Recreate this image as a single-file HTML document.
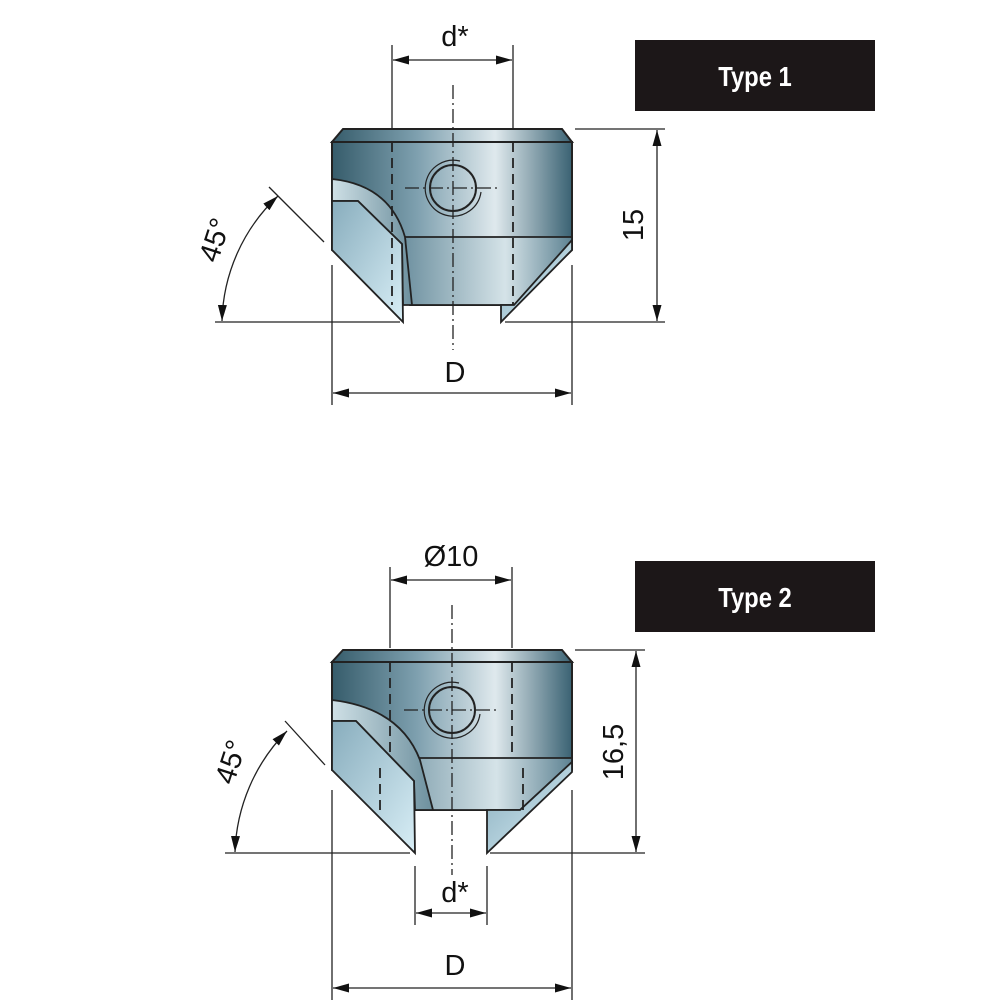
<!DOCTYPE html>
<html><head><meta charset="utf-8"><style>
html,body{margin:0;padding:0;background:#fff}
svg{display:block}
text{font-family:"Liberation Sans",sans-serif}
</style></head><body>
<svg width="1000" height="1000" viewBox="0 0 1000 1000" xmlns="http://www.w3.org/2000/svg">
<defs>
<linearGradient id="g" x1="0" x2="1" y1="0" y2="0">
<stop offset="0" stop-color="#365c6b"/><stop offset="0.35" stop-color="#7d9fae"/><stop offset="0.68" stop-color="#dfe9ed"/><stop offset="1" stop-color="#3a6273"/>
</linearGradient>
<linearGradient id="g2" x1="0" x2="1" y1="0" y2="0">
<stop offset="0" stop-color="#6f92a1"/><stop offset="0.6" stop-color="#d5e3e8"/><stop offset="1" stop-color="#5d8292"/>
</linearGradient>
<linearGradient id="c" x1="0" x2="1" y1="0" y2="1">
<stop offset="0" stop-color="#88adbd"/><stop offset="1" stop-color="#d8eef6"/>
</linearGradient>
<linearGradient id="b" x1="0" x2="1" y1="0" y2="0">
<stop offset="0" stop-color="#cfe0e6"/><stop offset="1" stop-color="#6d909e"/>
</linearGradient>
<marker id="a" viewBox="0 0 16 10" refX="16" refY="5" markerWidth="16" markerHeight="11" orient="auto-start-reverse" markerUnits="userSpaceOnUse"><path d="M0,0.5 L16,5 L0,9.5 Z" fill="#111"/></marker>
</defs>
<g stroke="#222" stroke-width="1.3" fill="none">
<!-- ===== TYPE 1 ===== -->
<polygon points="343,129 562,129 572,142 332,142" fill="url(#g)" stroke-width="2"/>
<polygon points="332,142 572,142 572,250 514,305 410,305 332,250" fill="url(#g)" stroke-width="2"/>
<polygon points="405,237 572,237 572,250 514,305 410,305" fill="url(#g2)" stroke-width="1.8"/>
<path d="M332,179 Q390,185 405,237 L412,305 L403,305 L402,244 L358,201 L332,201 Z" fill="url(#b)" stroke-width="1.8"/>
<polygon points="332,201 358,201 402,244 403,322 332,250" fill="url(#c)" stroke-width="1.8"/>
<polygon points="572,240 572,250 501,322 501,305 514,305" fill="url(#c)" stroke-width="1.8"/>
<circle cx="453" cy="188" r="23" stroke-width="2"/>
<path d="M460,161 A28,28 0 1 0 481,192" stroke-width="1.2"/>
<line x1="392" y1="45" x2="392" y2="128"/><line x1="513" y1="45" x2="513" y2="128"/>
<line x1="392" y1="142" x2="392" y2="305" stroke-dasharray="10,6" stroke-width="1.8"/>
<line x1="513" y1="142" x2="513" y2="305" stroke-dasharray="10,6" stroke-width="1.8"/>
<line x1="453" y1="85" x2="453" y2="350" stroke-dasharray="14,4,2,4"/>
<line x1="405" y1="188" x2="500" y2="188" stroke-dasharray="14,4,2,4"/>
<line x1="393" y1="60" x2="512" y2="60" marker-start="url(#a)" marker-end="url(#a)"/>
<line x1="575" y1="129" x2="665" y2="129"/><line x1="505" y1="322" x2="665" y2="322"/>
<line x1="657" y1="130" x2="657" y2="321" marker-start="url(#a)" marker-end="url(#a)"/>
<line x1="332" y1="265" x2="332" y2="405"/><line x1="572" y1="265" x2="572" y2="405"/>
<line x1="333" y1="393" x2="571" y2="393" marker-start="url(#a)" marker-end="url(#a)"/>
<line x1="269" y1="187" x2="324" y2="242"/>
<line x1="215" y1="322" x2="400" y2="322"/>
<path d="M278,196 A177,177 0 0 0 222,321" marker-start="url(#a)" marker-end="url(#a)"/>
<!-- ===== TYPE 2 ===== -->
<polygon points="343,650 562,650 572,662 332,662" fill="url(#g)" stroke-width="2"/>
<polygon points="332,662 572,662 572,770 520,810 415,810 332,770" fill="url(#g)" stroke-width="2"/>
<polygon points="383,758 572,758 572,762 520,810 415,810" fill="url(#g2)" stroke-width="1.8"/>
<path d="M332,700 Q400,708 420,760 L433,810 L415,810 L414,781 L356,721 L332,721 Z" fill="url(#b)" stroke-width="1.8"/>
<polygon points="332,721 356,721 414,781 415,853 332,770" fill="url(#c)" stroke-width="1.8"/>
<polygon points="572,762 572,772 487,853 487,810 520,810" fill="url(#c)" stroke-width="1.8"/>
<circle cx="452" cy="710" r="23" stroke-width="2"/>
<path d="M459,683 A28,28 0 1 0 480,714" stroke-width="1.2"/>
<line x1="390" y1="567" x2="390" y2="648"/><line x1="512" y1="567" x2="512" y2="648"/>
<line x1="390" y1="662" x2="390" y2="758" stroke-dasharray="10,6" stroke-width="1.8"/>
<line x1="512" y1="662" x2="512" y2="758" stroke-dasharray="10,6" stroke-width="1.8"/>
<line x1="380" y1="768" x2="380" y2="810" stroke-dasharray="10,6" stroke-width="1.8"/>
<line x1="523" y1="768" x2="523" y2="810" stroke-dasharray="10,6" stroke-width="1.8"/>
<line x1="452" y1="605" x2="452" y2="875" stroke-dasharray="14,4,2,4"/>
<line x1="404" y1="710" x2="499" y2="710" stroke-dasharray="14,4,2,4"/>
<line x1="391" y1="580" x2="511" y2="580" marker-start="url(#a)" marker-end="url(#a)"/>
<line x1="575" y1="650" x2="645" y2="650"/><line x1="490" y1="853" x2="645" y2="853"/>
<line x1="636" y1="651" x2="636" y2="852" marker-start="url(#a)" marker-end="url(#a)"/>
<line x1="415" y1="866" x2="415" y2="925"/><line x1="487" y1="866" x2="487" y2="925"/>
<line x1="416" y1="913" x2="486" y2="913" marker-start="url(#a)" marker-end="url(#a)"/>
<line x1="332" y1="790" x2="332" y2="1000"/><line x1="572" y1="790" x2="572" y2="1000"/>
<line x1="333" y1="988" x2="571" y2="988" marker-start="url(#a)" marker-end="url(#a)"/>
<line x1="285" y1="721" x2="325" y2="765"/>
<line x1="225" y1="853" x2="410" y2="853"/>
<path d="M287,731 A180,180 0 0 0 235,852" marker-start="url(#a)" marker-end="url(#a)"/>
</g>
<g fill="#111" font-size="29">
<text x="455" y="46" text-anchor="middle">d*</text>
<text x="455" y="382" text-anchor="middle">D</text>
<text x="0" y="0" transform="translate(643,225) rotate(-90)" text-anchor="middle">15</text>
<text x="0" y="0" transform="translate(224,243) rotate(-72)" text-anchor="middle">45°</text>
<text x="451" y="566" text-anchor="middle">Ø10</text>
<text x="0" y="0" transform="translate(623,752) rotate(-90)" text-anchor="middle">16,5</text>
<text x="0" y="0" transform="translate(240,765) rotate(-72)" text-anchor="middle">45°</text>
<text x="455" y="902" text-anchor="middle">d*</text>
<text x="455" y="975" text-anchor="middle">D</text>
</g>
<rect x="635" y="40" width="240" height="71" fill="#1c1718"/>
<rect x="635" y="561" width="240" height="71" fill="#1c1718"/>
<g fill="#fff" font-weight="bold" font-size="28" text-anchor="middle">
<text x="755" y="86" transform="translate(755,0) scale(0.85,1) translate(-755,0)">Type 1</text>
<text x="755" y="607" transform="translate(755,0) scale(0.85,1) translate(-755,0)">Type 2</text>
</g>
</svg>
</body></html>
